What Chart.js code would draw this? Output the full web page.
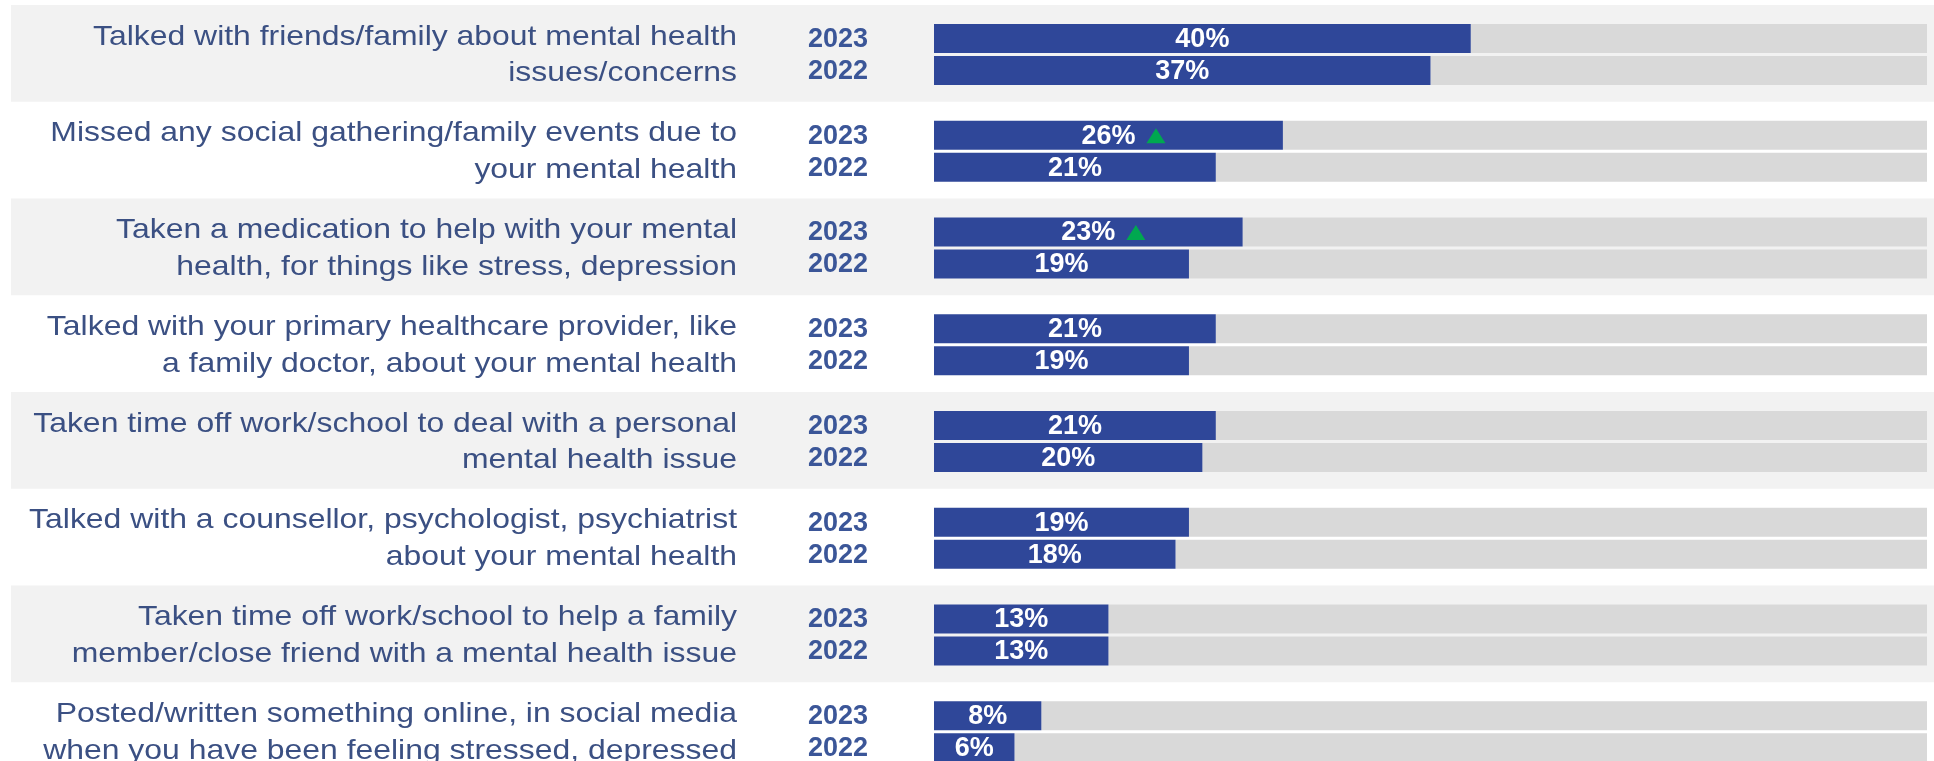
<!DOCTYPE html>
<html>
<head>
<meta charset="utf-8">
<script src="https://cdn.jsdelivr.net/npm/chart.js@4.4.1/dist/chart.umd.min.js"></script>
<style>
  html, body { margin: 0; padding: 0; background: #ffffff; overflow: hidden; }
  #wrap { width: 1934px; height: 780px; }
</style>
</head>
<body>
<div id="wrap"><canvas id="mhChart" width="1934" height="780"></canvas></div>
<script>
// Actions taken, share of respondents by year
const categories = [
    ['Talked with friends/family about mental health', 'issues/concerns'],
    ['Missed any social gathering/family events due to', 'your mental health'],
    ['Taken a medication to help with your mental', 'health, for things like stress, depression'],
    ['Talked with your primary healthcare provider, like', 'a family doctor, about your mental health'],
    ['Taken time off work/school to deal with a personal', 'mental health issue'],
    ['Talked with a counsellor, psychologist, psychiatrist', 'about your mental health'],
    ['Taken time off work/school to help a family', 'member/close friend with a mental health issue'],
    ['Posted/written something online, in social media', 'when you have been feeling stressed, depressed']
];
const years = ['2023', '2022'];
const values2023 = [40, 26, 23, 21, 21, 19, 13, 8];
const values2022 = [37, 21, 19, 19, 20, 18, 13, 6];
// significant increase vs previous year
const up2023 = [false, true, true, false, false, false, false, false];

const SCALE_MAX = 74;

const BLUE = '#2f4799';
const TRACK = '#d9d9d9';
const BAND = '#f2f2f2';
const LABEL_COLOR = '#3b5083';
const YEAR_COLOR = '#3b5698';
const ARROW_GREEN = '#00a850';

const rest = arr => arr.map(v => SCALE_MAX - v);

// alternating grey bands behind every other row
const rowBands = {
    id: 'rowBands',
    beforeDraw(chart) {
        const ctx = chart.ctx;
        const yScale = chart.scales.y;
        const half = (yScale.getPixelForValue(1) - yScale.getPixelForValue(0)) / 2;
        ctx.save();
        ctx.fillStyle = BAND;
        for (let i = 0; i < categories.length; i += 2) {
            const c = yScale.getPixelForValue(i);
            ctx.fillRect(11, c - half - 1, chart.width - 11, half * 2);
        }
        ctx.restore();
    }
};

// two-line question text, right aligned, set slightly wide
const questionLabels = {
    id: 'questionLabels',
    afterDraw(chart) {
        const ctx = chart.ctx;
        const yScale = chart.scales.y;
        const right = 737;
        const lineH = 36.7;
        ctx.save();
        ctx.font = '28px "Liberation Sans", Arial, sans-serif';
        ctx.fillStyle = LABEL_COLOR;
        ctx.textAlign = 'right';
        ctx.textBaseline = 'middle';
        chart.data.labels.forEach((lines, i) => {
            const cy = yScale.getPixelForValue(i) + 1;
            const first = -((lines.length - 1) * lineH) / 2;
            lines.forEach((line, j) => {
                ctx.save();
                ctx.translate(right, cy + first + j * lineH);
                ctx.scale(1.14, 1);
                ctx.fillText(line, 0, 0);
                ctx.restore();
            });
        });
        ctx.restore();
    }
};

// year captions left of the bars, percentages inside the bars
const barText = {
    id: 'barText',
    afterDatasetsDraw(chart) {
        const ctx = chart.ctx;
        ctx.save();
        ctx.font = 'bold 27px "Liberation Sans", Arial, sans-serif';
        ctx.textBaseline = 'middle';
        [0, 2].forEach((dsIndex, k) => {
            const meta = chart.getDatasetMeta(dsIndex);
            const vals = chart.data.datasets[dsIndex].data;
            meta.data.forEach((bar, i) => {
                // year
                ctx.fillStyle = YEAR_COLOR;
                ctx.textAlign = 'center';
                ctx.fillText(years[k], 838, bar.y + 1);

                // value
                const cx = (bar.x + bar.base) / 2;
                const txt = vals[i] + '%';
                ctx.fillStyle = '#ffffff';
                ctx.fillText(txt, cx, bar.y + 1);

                if (k === 0 && up2023[i]) {
                    const w = ctx.measureText(txt).width;
                    const left = cx + w / 2 + 11;
                    ctx.fillStyle = ARROW_GREEN;
                    ctx.beginPath();
                    ctx.moveTo(left, bar.y + 8);
                    ctx.lineTo(left + 19, bar.y + 8);
                    ctx.lineTo(left + 9.5, bar.y - 7);
                    ctx.closePath();
                    ctx.fill();
                }
            });
        });
        ctx.restore();
    }
};

const ctx = document.getElementById('mhChart').getContext('2d');
new Chart(ctx, {
    type: 'bar',
    data: {
        labels: categories,
        datasets: [
            { label: '2023', data: values2023, backgroundColor: BLUE, stack: 's2023' },
            { label: '2023 rest', data: rest(values2023), backgroundColor: TRACK, stack: 's2023' },
            { label: '2022', data: values2022, backgroundColor: BLUE, stack: 's2022' },
            { label: '2022 rest', data: rest(values2022), backgroundColor: TRACK, stack: 's2022' }
        ]
    },
    options: {
        indexAxis: 'y',
        responsive: false,
        animation: false,
        devicePixelRatio: 1,
        layout: { padding: { top: 6, bottom: 0, left: 0, right: 7 } },
        categoryPercentage: 64 / 96.75,
        barPercentage: 29 / 32,
        plugins: {
            legend: { display: false },
            tooltip: { enabled: false }
        },
        scales: {
            x: {
                display: false,
                stacked: true,
                min: 0,
                max: SCALE_MAX
            },
            y: {
                stacked: true,
                grid: { display: false, drawTicks: false },
                border: { display: false },
                ticks: { display: false },
                afterFit(scale) {
                    // fixed column for the question text and year captions
                    scale.width = 934;
                    scale.paddingTop = 0;
                    scale.paddingBottom = 0;
                }
            }
        }
    },
    plugins: [rowBands, questionLabels, barText]
});
</script>
</body>
</html>
